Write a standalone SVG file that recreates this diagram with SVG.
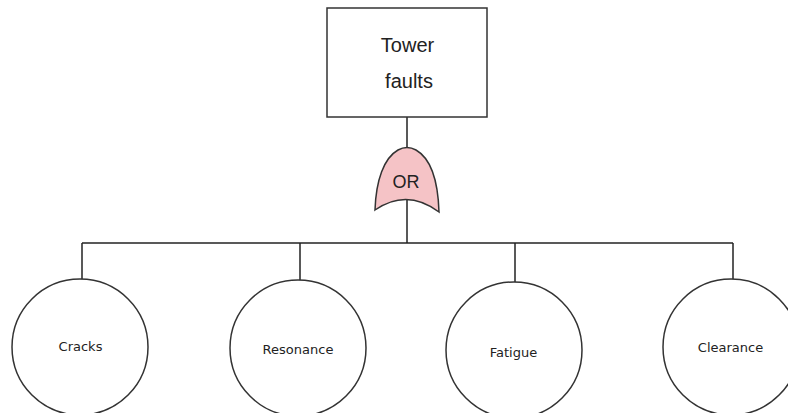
<svg xmlns="http://www.w3.org/2000/svg" width="788" height="413" viewBox="0 0 788 413">
  <style>
    .line { stroke: #222; stroke-width: 1.5; fill: none; }
    .node { stroke: #333; stroke-width: 1.5; fill: #fff; }
    .gate { stroke: #333; stroke-width: 1.5; fill: #f5c3c6; }
    .lbl { font-family: "Liberation Sans", Arial, sans-serif; fill: #222; text-anchor: middle; }
    .ev { font-family: "DejaVu Sans", Verdana, sans-serif; font-size: 13px; fill: #222; text-anchor: middle; }
  </style>
  <rect width="788" height="413" fill="#fff"/>

  <!-- connectors -->
  <g id="connectors">
    <path class="line" d="M407,117 V148"/>
    <path class="line" d="M407,200 V243"/>
    <path class="line" d="M82,243 H733"/>
    <path class="line" d="M82,243 V279"/>
    <path class="line" d="M300,243 V280"/>
    <path class="line" d="M515,243 V282"/>
    <path class="line" d="M733,243 V279"/>
  </g>

  <!-- top event -->
  <g id="tower-faults">
    <rect class="node" x="327" y="8" width="160" height="109"/>
    <text class="lbl" x="407.5" y="52" font-size="20">Tower</text>
    <text class="lbl" x="409" y="88" font-size="20">faults</text>
  </g>

  <!-- OR gate -->
  <g id="or-gate">
    <path class="gate" d="M375,210 C376,180 384,158 398,150 Q407,145 416,150 C430,158 438,180 439,212 Q407,188 375,210 Z"/>
    <text class="lbl" x="406" y="188" font-size="18">OR</text>
  </g>

  <!-- basic events -->
  <g id="cracks">
    <circle class="node" cx="80" cy="347" r="68"/>
    <text class="ev" x="80.5" y="351">Cracks</text>
  </g>
  <g id="resonance">
    <circle class="node" cx="298" cy="348" r="68"/>
    <text class="ev" x="298" y="354">Resonance</text>
  </g>
  <g id="fatigue">
    <circle class="node" cx="514" cy="350" r="68"/>
    <text class="ev" x="513.5" y="357">Fatigue</text>
  </g>
  <g id="clearance">
    <circle class="node" cx="731" cy="347" r="68"/>
    <text class="ev" x="730.5" y="352">Clearance</text>
  </g>
</svg>
